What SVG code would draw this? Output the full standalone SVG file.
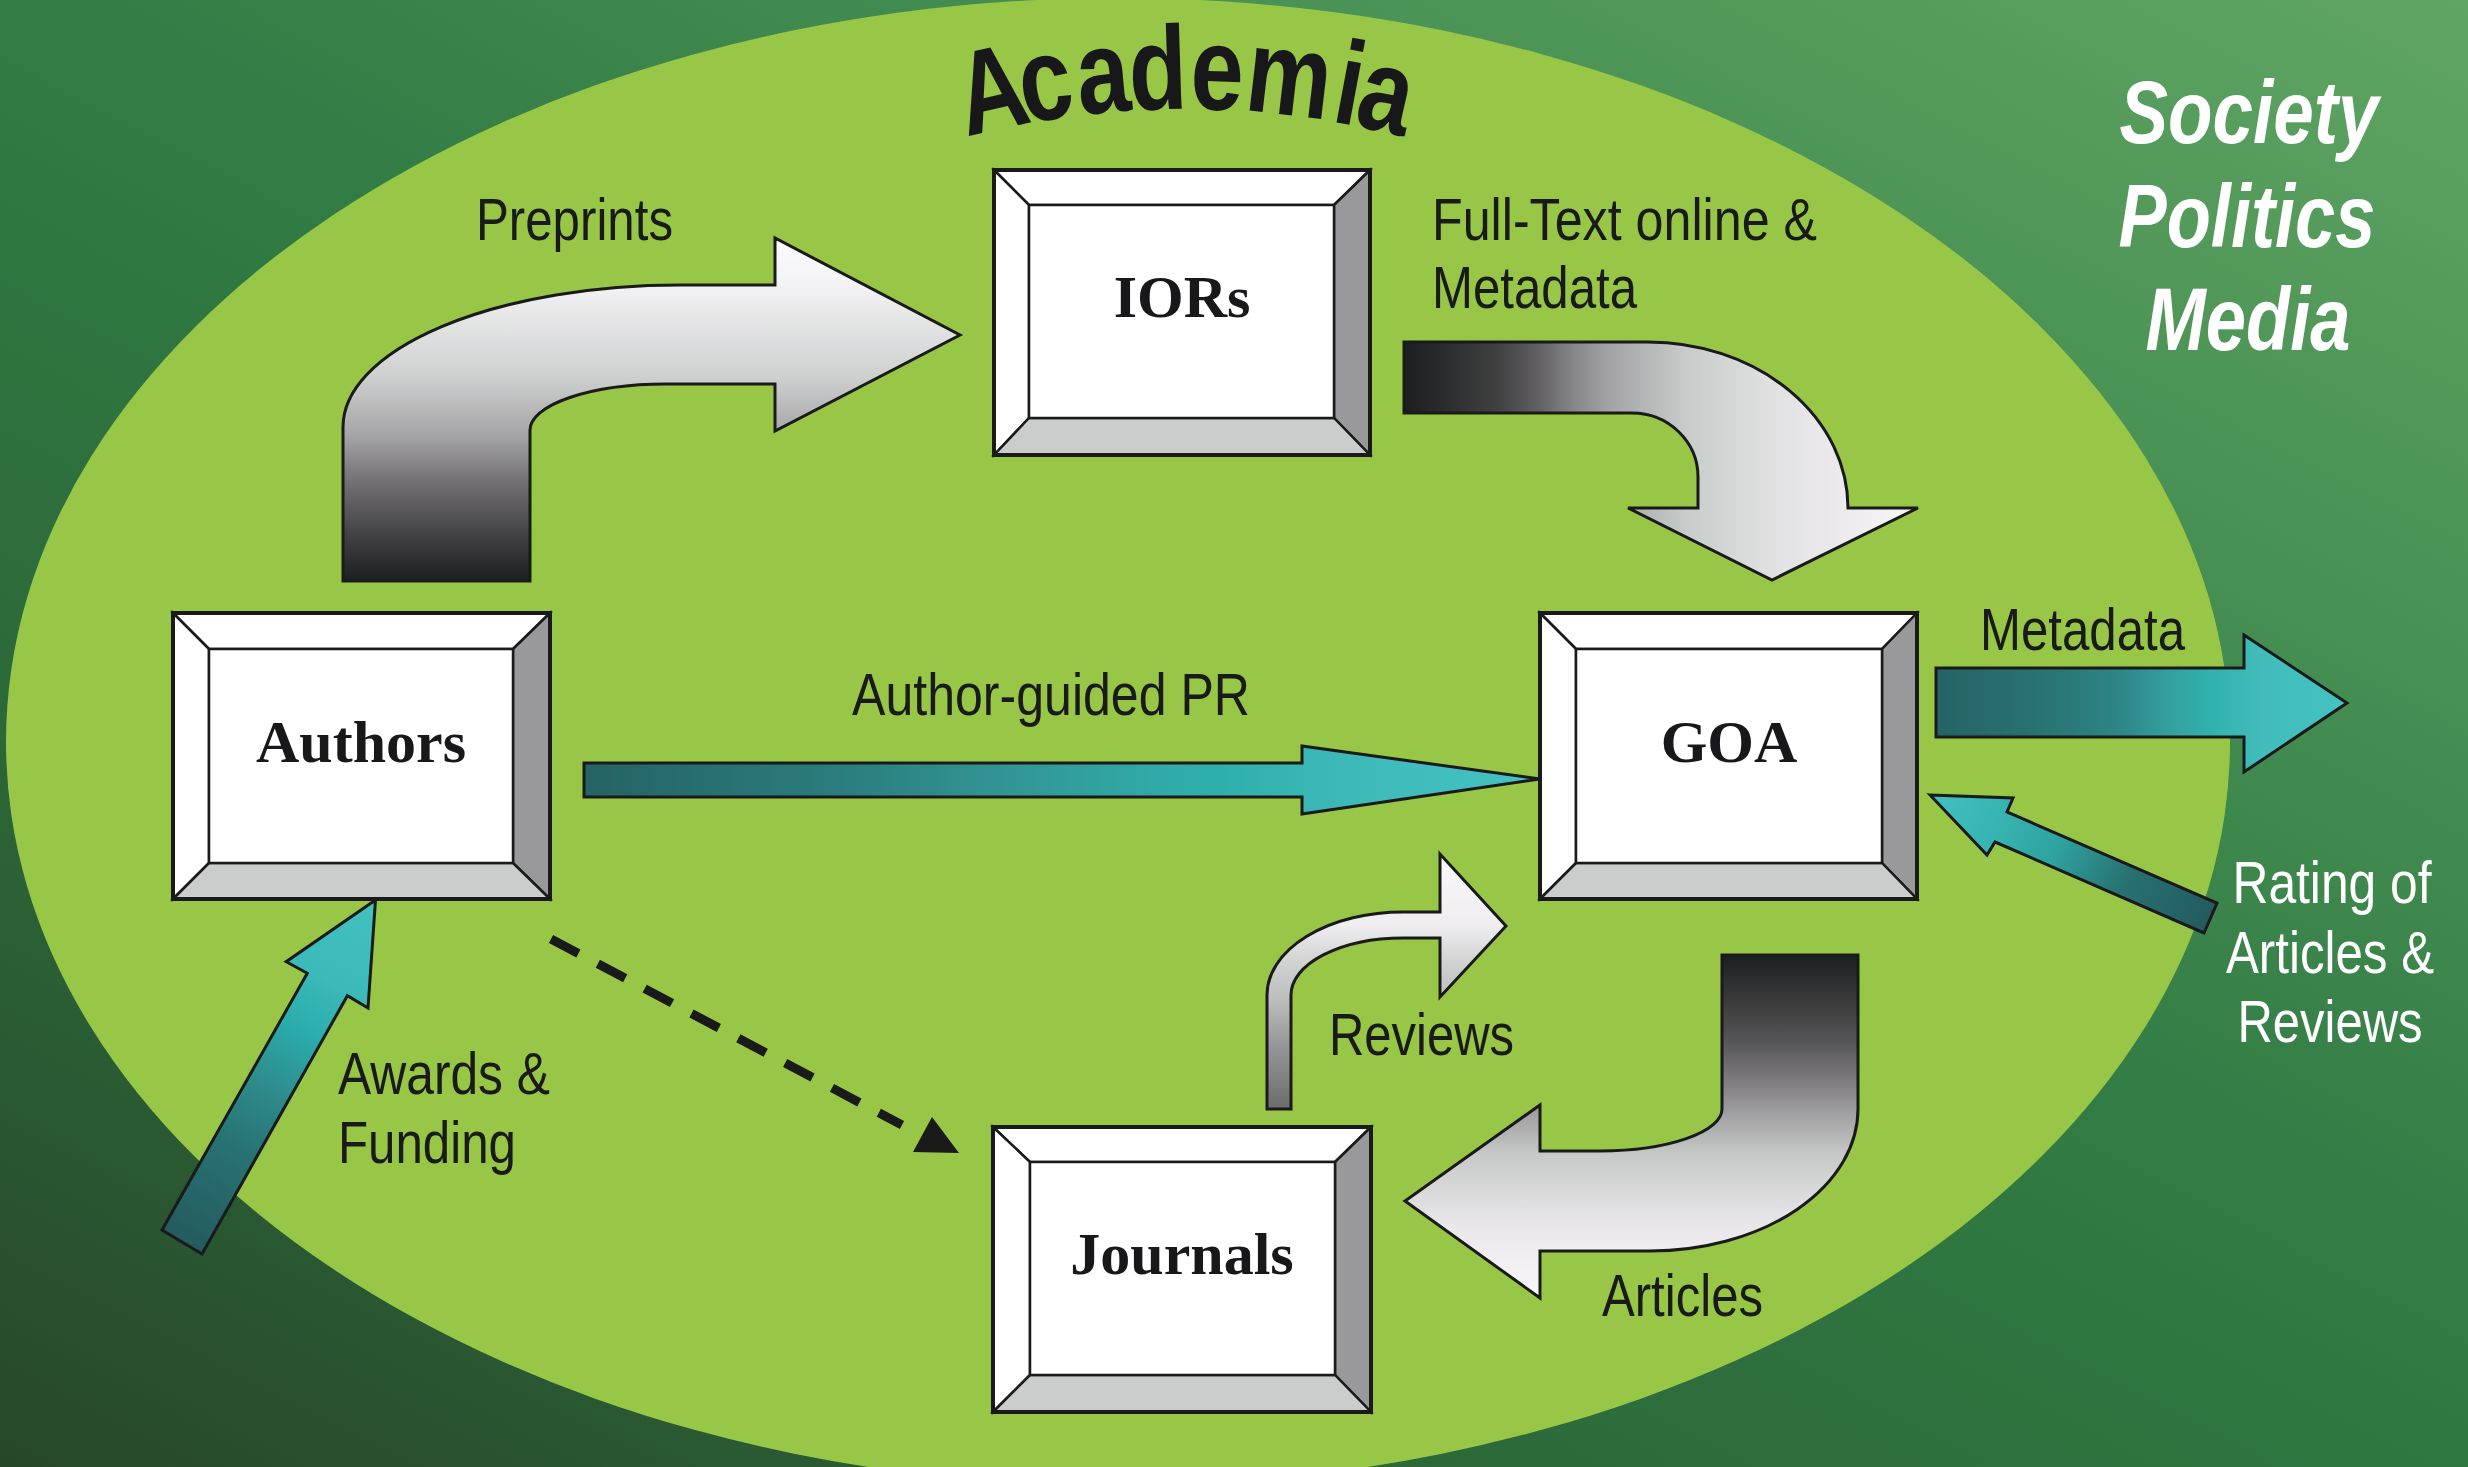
<svg xmlns="http://www.w3.org/2000/svg" width="2468" height="1467" viewBox="0 0 2468 1467">
<defs>
<linearGradient id="bg" x1="0" y1="1467" x2="1124" y2="-696" gradientUnits="userSpaceOnUse">
<stop offset="0" stop-color="#27472b"/>
<stop offset="0.27" stop-color="#2c6838"/>
<stop offset="0.53" stop-color="#317c45"/>
<stop offset="1" stop-color="#60a563"/>
</linearGradient>
<linearGradient id="gPre" x1="0" y1="0" x2="0" y2="1">
<stop offset="0" stop-color="#fbfafc"/>
<stop offset="0.13" stop-color="#f4f3f5"/>
<stop offset="0.4" stop-color="#cfd1d1"/>
<stop offset="0.57" stop-color="#a7a6a8"/>
<stop offset="0.71" stop-color="#737173"/>
<stop offset="0.86" stop-color="#444345"/>
<stop offset="1" stop-color="#1c1e1f"/>
</linearGradient>
<linearGradient id="gFull" x1="0" y1="0" x2="1" y2="0">
<stop offset="0" stop-color="#1b1d1e"/>
<stop offset="0.18" stop-color="#404041"/>
<stop offset="0.25" stop-color="#5c5a5c"/>
<stop offset="0.33" stop-color="#868587"/>
<stop offset="0.4" stop-color="#a4a3a5"/>
<stop offset="0.55" stop-color="#c8cccb"/>
<stop offset="0.7" stop-color="#dfdfe0"/>
<stop offset="0.85" stop-color="#edeaee"/>
<stop offset="1" stop-color="#f8f7fa"/>
</linearGradient>
<linearGradient id="gArt" x1="0" y1="0" x2="0" y2="1">
<stop offset="0" stop-color="#1c1e1f"/>
<stop offset="0.14" stop-color="#3c3c3d"/>
<stop offset="0.25" stop-color="#555456"/>
<stop offset="0.36" stop-color="#7b797b"/>
<stop offset="0.47" stop-color="#a3a2a4"/>
<stop offset="0.58" stop-color="#c6c9c8"/>
<stop offset="0.69" stop-color="#d9d9da"/>
<stop offset="0.8" stop-color="#ebe8ec"/>
<stop offset="1" stop-color="#f8f7f9"/>
</linearGradient>
<linearGradient id="gRev" x1="0" y1="0" x2="0" y2="1">
<stop offset="0" stop-color="#f9f8fa"/>
<stop offset="0.28" stop-color="#efedf0"/>
<stop offset="0.43" stop-color="#d0d1d1"/>
<stop offset="0.58" stop-color="#bbbcbc"/>
<stop offset="0.73" stop-color="#9a999b"/>
<stop offset="1" stop-color="#6c6c6d"/>
</linearGradient>
<linearGradient id="gPR" x1="0" y1="0" x2="1" y2="0">
<stop offset="0" stop-color="#256364"/>
<stop offset="0.25" stop-color="#2a7b7b"/>
<stop offset="0.44" stop-color="#329593"/>
<stop offset="0.6" stop-color="#30aaa8"/>
<stop offset="0.66" stop-color="#2eafac"/>
<stop offset="0.8" stop-color="#3db9b8"/>
<stop offset="1" stop-color="#44c3c2"/>
</linearGradient>
<linearGradient id="gMeta" x1="0" y1="0" x2="1" y2="0">
<stop offset="0" stop-color="#256365"/>
<stop offset="0.26" stop-color="#297373"/>
<stop offset="0.44" stop-color="#2d8585"/>
<stop offset="0.57" stop-color="#35a09f"/>
<stop offset="0.66" stop-color="#30b1ad"/>
<stop offset="0.79" stop-color="#41bcbb"/>
<stop offset="1" stop-color="#44c2c2"/>
</linearGradient>
<linearGradient id="gRate" x1="2210" y1="918" x2="1930" y2="795" gradientUnits="userSpaceOnUse">
<stop offset="0" stop-color="#235b5f"/>
<stop offset="0.3" stop-color="#287171"/>
<stop offset="0.55" stop-color="#2fa2a0"/>
<stop offset="0.75" stop-color="#36b4b1"/>
<stop offset="1" stop-color="#43c0c0"/>
</linearGradient>
<linearGradient id="gAward" x1="182" y1="1242" x2="376" y2="900" gradientUnits="userSpaceOnUse">
<stop offset="0" stop-color="#245b5e"/>
<stop offset="0.27" stop-color="#287172"/>
<stop offset="0.46" stop-color="#2f8d8d"/>
<stop offset="0.61" stop-color="#2aabab"/>
<stop offset="0.76" stop-color="#3cb9b9"/>
<stop offset="1" stop-color="#43c1c1"/>
</linearGradient>
<style>
.arr{stroke:#1a1a1a;stroke-width:3;stroke-linejoin:miter}
.bev{stroke:#1a1a1a;stroke-width:2.5;stroke-linejoin:miter}
.outer{fill:none;stroke:#1a1a1a;stroke-width:4}
.hl{fill:#ffffff}
.sh{fill:#99999b}
.bt{fill:#cbcdcc}
.face{fill:#ffffff}
.box-label{font-family:"Liberation Serif","Times New Roman",serif;font-weight:bold;font-size:60px;fill:#18171a;text-anchor:middle}
.lbl{font-family:"Liberation Sans Narrow","Liberation Sans",Arial,sans-serif;font-size:60px;fill:#1a1a1a}
.wlbl{font-family:"Liberation Sans Narrow","Liberation Sans",Arial,sans-serif;font-size:60px;fill:#ffffff;text-anchor:middle}
.soc{font-family:"Liberation Sans Narrow","Liberation Sans",Arial,sans-serif;font-size:89px;font-weight:bold;font-style:italic;fill:#ffffff;text-anchor:middle}
.acad{font-family:"Liberation Sans",Arial,sans-serif;font-size:119px;font-weight:bold;fill:#18171a;text-anchor:middle}
</style>
</defs>

<g id="background">
<rect x="0" y="0" width="2468" height="1467" fill="url(#bg)"/>
<ellipse cx="1118" cy="742" rx="1112" ry="744" fill="#98c747"/>
</g>

<g id="titles">
<text class="acad" transform="translate(1000,129) rotate(-12.4) scale(0.8,1)">A</text>
<text class="acad" transform="translate(1051,119.5) rotate(-8.9) scale(0.8,1)">c</text>
<text class="acad" transform="translate(1106,112.6) rotate(-5.3) scale(0.8,1)">a</text>
<text class="acad" transform="translate(1159,109.4) rotate(-1.7) scale(0.8,1)">d</text>
<text class="acad" transform="translate(1216,109.6) rotate(2.1) scale(0.8,1)">e</text>
<text class="acad" transform="translate(1285,114.8) rotate(6.7) scale(0.8,1)">m</text>
<text class="acad" transform="translate(1343,123.6) rotate(10.6) scale(0.8,1)">i</text>
<text class="acad" transform="translate(1378,130.9) rotate(12.9) scale(0.8,1)">a</text>
<text class="soc" x="2249" y="143" textLength="259" lengthAdjust="spacingAndGlyphs">Society</text>
<text class="soc" x="2247" y="247" textLength="257" lengthAdjust="spacingAndGlyphs">Politics</text>
<text class="soc" x="2248" y="350" textLength="205" lengthAdjust="spacingAndGlyphs">Media</text>
</g>

<g id="connectors">
<path id="arrow-preprints" class="arr" fill="url(#gPre)" d="M343,581 L343,427 A337,142 0 0 1 680,285 L775,285 L775,238 L960,335 L775,431 L775,384 L666,384 A136,46 0 0 0 530,430 L530,581 Z"/>
<path id="arrow-fulltext" class="arr" fill="url(#gFull)" d="M1404,342 L1648,342 A200,166 0 0 1 1848,508 L1918,508 L1772,580 L1628,508 L1698,508 L1698,477 A66,64 0 0 0 1632,413 L1404,413 Z"/>
<path id="arrow-articles" class="arr" fill="url(#gArt)" d="M1722,955 L1858,955 L1858,1109 A208,142 0 0 1 1650,1251 L1540,1251 L1540,1298 L1405,1201 L1540,1105 L1540,1151 L1600,1151 A122,42 0 0 0 1722,1109 Z"/>
<path id="arrow-reviews" class="arr" fill="url(#gRev)" d="M1267,1109 L1267,995 A136,83 0 0 1 1403,912 L1440,912 L1440,854 L1506,926 L1440,997 L1440,938 L1403,938 A112,57 0 0 0 1291,995 L1291,1109 Z"/>
<path id="arrow-pr" class="arr" fill="url(#gPR)" d="M584,763 L1302,763 L1302,746 L1540,779 L1302,814 L1302,797 L584,797 Z"/>
<path id="arrow-metadata" class="arr" fill="url(#gMeta)" d="M1936,668 L2244,668 L2244,635 L2347,703 L2244,772 L2244,737 L1936,737 Z"/>
<path id="arrow-rating" class="arr" fill="url(#gRate)" d="M1930,795 L2013,798 L2007,812 L2217,903 L2204,933 L1995,842 L1987,855 Z"/>
<path id="arrow-awards" class="arr" fill="url(#gAward)" d="M375.5,900 L368,1008 L347.4,995.7 L202,1254 L162,1230 L307.3,973.3 L286.2,961.7 Z"/>
<g id="arrow-dashed">
<line x1="551" y1="939" x2="902" y2="1125" stroke="#1a1a1a" stroke-width="9" stroke-dasharray="31 22"/>
<polygon points="932,1117 913,1152 959,1153" fill="#1a1a1a"/>
</g>
</g>

<g id="labels">
<text class="lbl" x="476" y="240" textLength="197" lengthAdjust="spacingAndGlyphs">Preprints</text>
<text class="lbl" x="1432" y="240" textLength="385" lengthAdjust="spacingAndGlyphs">Full-Text online &amp;</text>
<text class="lbl" x="1432" y="308" textLength="205" lengthAdjust="spacingAndGlyphs">Metadata</text>
<text class="lbl" x="852" y="715" textLength="398" lengthAdjust="spacingAndGlyphs">Author-guided PR</text>
<text class="lbl" x="1980" y="650" textLength="205" lengthAdjust="spacingAndGlyphs">Metadata</text>
<text class="wlbl" x="2332" y="903" textLength="199" lengthAdjust="spacingAndGlyphs">Rating of</text>
<text class="wlbl" x="2330" y="973" textLength="208" lengthAdjust="spacingAndGlyphs">Articles &amp;</text>
<text class="wlbl" x="2330" y="1042" textLength="185" lengthAdjust="spacingAndGlyphs">Reviews</text>
<text class="lbl" x="338" y="1094" textLength="212" lengthAdjust="spacingAndGlyphs">Awards &amp;</text>
<text class="lbl" x="338" y="1163" textLength="178" lengthAdjust="spacingAndGlyphs">Funding</text>
<text class="lbl" x="1329" y="1055" textLength="185" lengthAdjust="spacingAndGlyphs">Reviews</text>
<text class="lbl" x="1602" y="1316" textLength="161" lengthAdjust="spacingAndGlyphs">Articles</text>
</g>

<g id="node-iors">
<polygon class="bev hl" points="994,170 1370,170 1334,205 1029,205"/>
<polygon class="bev hl" points="994,170 1029,205 1029,418 994,455"/>
<polygon class="bev sh" points="1370,170 1370,455 1334,418 1334,205"/>
<polygon class="bev bt" points="994,455 1029,418 1334,418 1370,455"/>
<rect class="bev face" x="1029" y="205" width="305" height="213"/>
<rect class="outer" x="994" y="170" width="376" height="285"/>
<text class="box-label" x="1182" y="317">IORs</text>
</g>

<g id="node-authors">
<polygon class="bev hl" points="173,613 550,613 513,649 209,649"/>
<polygon class="bev hl" points="173,613 209,649 209,863 173,899"/>
<polygon class="bev sh" points="550,613 550,899 513,863 513,649"/>
<polygon class="bev bt" points="173,899 209,863 513,863 550,899"/>
<rect class="bev face" x="209" y="649" width="304" height="214"/>
<rect class="outer" x="173" y="613" width="377" height="286"/>
<text class="box-label" x="361" y="762">Authors</text>
</g>

<g id="node-goa">
<polygon class="bev hl" points="1540,613 1917,613 1882,649 1576,649"/>
<polygon class="bev hl" points="1540,613 1576,649 1576,863 1540,899"/>
<polygon class="bev sh" points="1917,613 1917,899 1882,863 1882,649"/>
<polygon class="bev bt" points="1540,899 1576,863 1882,863 1917,899"/>
<rect class="bev face" x="1576" y="649" width="306" height="214"/>
<rect class="outer" x="1540" y="613" width="377" height="286"/>
<text class="box-label" x="1729" y="762">GOA</text>
</g>

<g id="node-journals">
<polygon class="bev hl" points="993,1127 1371,1127 1335,1162 1030,1162"/>
<polygon class="bev hl" points="993,1127 1030,1162 1030,1375 993,1412"/>
<polygon class="bev sh" points="1371,1127 1371,1412 1335,1375 1335,1162"/>
<polygon class="bev bt" points="993,1412 1030,1375 1335,1375 1371,1412"/>
<rect class="bev face" x="1030" y="1162" width="305" height="213"/>
<rect class="outer" x="993" y="1127" width="378" height="285"/>
<text class="box-label" x="1182" y="1274">Journals</text>
</g>
</svg>
